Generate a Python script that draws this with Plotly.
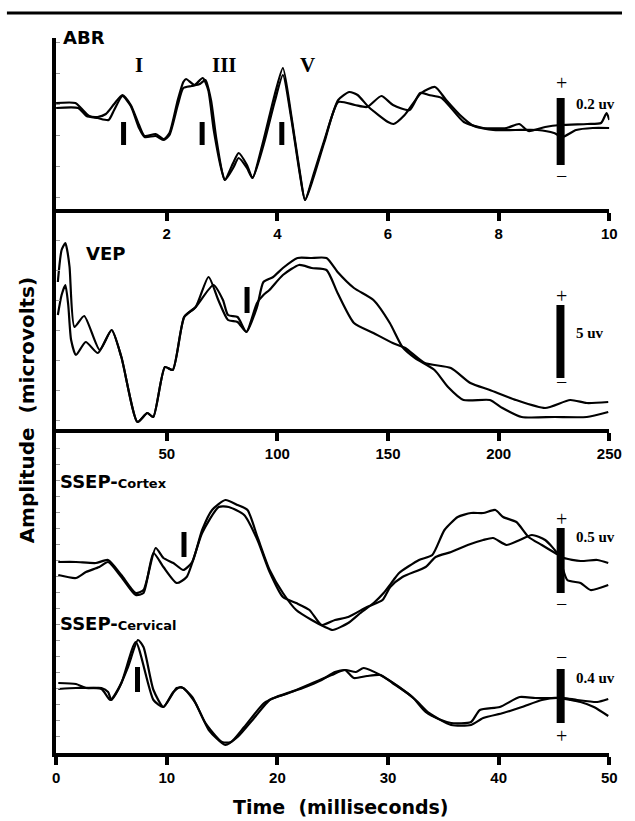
import plotly.graph_objects as go

# ---------------- data (amplitudes in arbitrary display units, upward positive) ----------------
abr_t_a = [0.0, 0.35, 0.45, 0.6, 0.75, 0.9, 1.05, 1.2, 1.35, 1.5, 1.6, 1.8, 1.95, 2.05, 2.2, 2.3, 2.35, 2.5,
           2.65, 2.75, 2.85, 3.0, 3.05, 3.2, 3.3, 3.45, 3.55, 3.75, 3.95, 4.1, 4.25, 4.4, 4.5, 4.65, 4.85,
           5.1, 5.3, 5.45, 5.65, 6.0, 6.1, 6.3, 6.6, 6.85, 7.05, 7.3, 7.55, 7.9, 8.3, 8.7, 9.0, 9.15, 9.4,
           9.7, 10.0]
abr_a = [0, 0, -5, -13, -14, -11, -1, 8, -2, -22, -33, -31, -36, -30, 3, 21, 24, 18, 25, 13, -27, -69, -77,
         -60, -50, -62, -75, -37, 8, 35, -12, -67, -97, -72, -37, 3, 11, 8, -4, -19, -21, -12, 10, 16, 3,
         -12, -23, -27, -27, -27, -30, -34, -27, -25, -25]
abr_t_b = [0.0, 0.4, 0.55, 0.75, 0.95, 1.05, 1.2, 1.35, 1.5, 1.6, 1.8, 1.95, 2.05, 2.2, 2.3, 2.45, 2.6, 2.7,
           2.8, 2.9, 3.05, 3.2, 3.3, 3.45, 3.55, 3.75, 3.95, 4.1, 4.25, 4.4, 4.5, 4.65, 4.85, 5.1, 5.4, 5.62,
           5.88, 6.09, 6.39, 6.58, 6.74, 6.97, 7.37, 7.72, 8.14, 8.37, 8.54, 8.84, 9.12, 9.6, 9.85, 9.95, 10.0]
abr_b = [-5, -5, -13, -15, -17, -7, 7, -3, -25, -34, -33, -37, -32, -2, 15, 17, 19, 23, 3, -37, -77, -65,
         -55, -65, -75, -42, 1, 28, -15, -69, -97, -75, -39, 1, -2, -4, 7, -2, -7, 10, 8, 5, -19, -25, -25,
         -21, -28, -24, -22, -21, -20, -10, -17]

vep_t_a = [0.8, 2.5, 4.2, 5.0, 6.1, 8.3, 12.7, 19.7, 25.1, 29.5, 36.8, 41.2, 43.9, 49.2, 52.7, 57.9, 63.1,
           68.9, 73.3, 77.7, 82.0, 86.0, 90.8, 93.7, 98.1, 102.5, 109.1, 114.9, 122.2, 127.2, 134.6, 143.4,
           150.8, 156.5, 162.2, 171.0, 177.1, 184.1, 196.0, 201.7, 210.4, 225.3, 239.8, 249.5]
vep_a = [48, 80, 87, 80, 63, 3, 14, -20, 0, -27, -92, -83, -87, -37, -40, 13, 23, 53, 30, 10, 8, -2, 23, 48,
         53, 62, 72, 72, 72, 58, 42, 30, 7, -17, -28, -40, -57, -70, -70, -78, -87, -87, -87, -82]
vep_t_b = [0.8, 2.5, 4.2, 5.5, 6.8, 9.0, 13.4, 18.9, 25.1, 29.5, 36.8, 41.2, 43.9, 49.2, 52.7, 57.9, 63.1,
           71.1, 75.4, 77.7, 82.0, 86.0, 90.8, 93.7, 96.4, 102.5, 109.8, 115.5, 122.2, 127.2, 134.6, 143.4,
           152.1, 157.8, 166.6, 178.4, 187.2, 196.0, 207.8, 221.0, 232.3, 239.8, 249.5]
vep_b = [15, 35, 45, 25, -10, -25, -12, -23, 0, -27, -92, -83, -87, -37, -40, 13, 23, 45, 30, 15, 13, -2, 27,
         35, 40, 55, 65, 62, 60, 37, 7, -3, -13, -18, -33, -38, -53, -60, -70, -78, -70, -73, -72]

ctx_t_a = [0.2, 1.8, 3.6, 4.7, 5.9, 7.2, 7.9, 9.0, 9.7, 10.6, 11.5, 12.3, 13.2, 14.1, 15.3, 16.4, 17.3, 18.2,
           19.3, 20.5, 21.7, 23.1, 24.3, 25.0, 26.4, 27.5, 28.7, 29.6, 30.5, 31.0, 32.8, 34.0, 35.1, 36.3,
           37.5, 38.6, 39.7, 40.4, 41.6, 42.7, 43.9, 45.1, 45.9, 47.4, 48.9, 49.9]
ctx_a = [0, 0, -1, 2, -13, -31, -28, 14, 4, -1, -8, 0, 32, 52, 62, 57, 52, 25, -8, -31, -48, -58, -65, -68,
         -61, -51, -41, -31, -18, -11, 2, 7, 32, 45, 49, 49, 52, 45, 40, 25, 17, 9, 4, 1, 2, -1]
ctx_t_b = [0.2, 1.8, 2.7, 3.9, 4.7, 5.9, 7.2, 7.9, 8.8, 9.7, 10.9, 11.8, 13.2, 14.7, 15.6, 17.0, 18.2, 19.3,
           20.5, 21.7, 22.9, 24.0, 25.2, 26.4, 28.1, 29.5, 30.2, 31.3, 33.4, 34.3, 35.7, 37.2, 38.6, 39.5,
           40.7, 41.9, 43.0, 44.2, 45.4, 46.2, 47.4, 48.3, 49.9]
ctx_b = [-13, -16, -10, -5, 0, -15, -33, -31, 9, -5, -21, -15, 29, 55, 55, 47, 22, -10, -35, -41, -48, -63,
         -58, -55, -45, -38, -25, -15, -5, 5, 10, 17, 22, 24, 17, 22, 27, 22, 7, -18, -21, -28, -23]

cerv_t_a = [0.2, 1.8, 2.7, 4.1, 4.7, 5.0, 5.6, 6.5, 7.4, 7.9, 8.8, 9.7, 10.6, 11.3, 12.3, 13.5, 15.0, 15.8,
            17.0, 18.8, 19.9, 21.7, 23.4, 24.9, 26.1, 26.9, 28.1, 29.3, 30.4, 32.2, 33.4, 34.8, 35.7, 37.5,
            38.3, 40.1, 41.9, 43.3, 44.8, 45.9, 47.1, 48.9, 49.9]
cerv_a = [5, 4, 0, 0, -4, -12, -2, 21, 48, 41, -2, -19, -4, 1, -9, -35, -54, -54, -39, -15, -9, -2, 6, 13, 18,
          10, 12, 13, 5, -9, -24, -32, -35, -34, -22, -19, -9, -10, -10, -10, -12, -14, -11]
cerv_t_b = [0.2, 1.8, 4.1, 4.9, 5.9, 7.2, 8.8, 9.7, 10.9, 11.5, 12.6, 13.8, 15.3, 16.4, 17.9, 19.3, 20.5,
            22.3, 24.0, 25.2, 26.2, 27.1, 27.8, 29.3, 31.0, 32.5, 33.7, 35.7, 37.5, 38.6, 40.4, 42.1, 43.9,
            45.3, 46.5, 47.4, 48.6, 49.9]
cerv_b = [-1, 0, -1, -12, 5, 46, -12, -19, 0, 0, -15, -42, -57, -49, -30, -12, -7, 0, 8, 16, 18, 16, 20, 13,
          1, -12, -25, -37, -37, -30, -25, -19, -12, -10, -12, -14, -19, -28]

abr_ticks = [2, 4, 6, 8, 10]
vep_ticks = [50, 100, 150, 200, 250]
ssep_ticks = [0, 10, 20, 30, 40, 50]

# ---------------- layout helpers ----------------
W, H = 635, 821
CORTEX_OFFSET = 126


def px(x):
    return x / W


def py(y):
    return 1 - y / H


LINE = dict(color="black", width=2.2, shape="spline", smoothing=0.6)

fig = go.Figure()
for t, v, xa, ya in [
    (abr_t_a, abr_a, "x", "y"), (abr_t_b, abr_b, "x", "y"),
    (vep_t_a, vep_a, "x2", "y2"), (vep_t_b, vep_b, "x2", "y2"),
    (ctx_t_a, [a + CORTEX_OFFSET for a in ctx_a], "x3", "y3"),
    (ctx_t_b, [a + CORTEX_OFFSET for a in ctx_b], "x3", "y3"),
    (cerv_t_a, cerv_a, "x3", "y3"), (cerv_t_b, cerv_b, "x3", "y3"),
]:
    fig.add_trace(go.Scatter(x=t, y=v, xaxis=xa, yaxis=ya, mode="lines", line=LINE,
                             hoverinfo="skip", showlegend=False))

XD = [px(53.5), px(622)]
tickfont = dict(family="Liberation Sans, Arial", size=15, color="black", weight="bold")
xcommon = dict(showline=True, linecolor="black", linewidth=4, ticks="outside", ticklen=8,
               tickwidth=4, tickcolor="black", showgrid=False, zeroline=False, tickfont=tickfont,
               domain=XD)
ycommon = dict(showline=True, linecolor="black", linewidth=4, ticks="inside", ticklen=4, tickwidth=1,
               tickcolor="#999999", showticklabels=False, showgrid=False, zeroline=False)

fig.update_layout(
    width=W, height=H, margin=dict(l=0, r=0, t=0, b=0),
    paper_bgcolor="white", plot_bgcolor="white", showlegend=False,
    xaxis=dict(xcommon, anchor="y", range=[0, 10], tickvals=abr_ticks),
    yaxis=dict(ycommon, anchor="x", domain=[py(208.5), py(38)], range=[-105.5, 65], tick0=-1, dtick=31),
    xaxis2=dict(xcommon, anchor="y2", range=[0, 250], tickvals=vep_ticks),
    yaxis2=dict(ycommon, anchor="x2", domain=[py(429), py(212.5)], range=[-99, 117.5], tick0=0, dtick=30),
    xaxis3=dict(xcommon, anchor="y3", range=[0, 50], tickvals=ssep_ticks),
    yaxis3=dict(ycommon, anchor="x3", domain=[py(753), py(433)], range=[-65, 255], tick0=0, dtick=16),
)

shapes = []
# top rule
shapes.append(dict(type="line", xref="paper", yref="paper", x0=px(3), x1=1, y0=py(13), y1=py(13),
                   line=dict(color="black", width=3)))


def vbar(xa, ya, x, y0, y1, w):
    shapes.append(dict(type="line", xref=xa, yref=ya, x0=x, x1=x, y0=y0, y1=y1,
                       line=dict(color="black", width=w)))


# wave markers
for xm in [1.22, 2.64, 4.08]:
    vbar("x", "y", xm, -19, -42, 5)
vbar("x2", "y2", 86.3, 43, 17, 5)
vbar("x3", "y3", 11.56, 30 + CORTEX_OFFSET, 5 + CORTEX_OFFSET, 5)
vbar("x3", "y3", 7.36, 21, -4, 5)
# scale bars
vbar("x", "y", 9.12, 5, -62, 8)
vbar("x2", "y2", 227.9, 25, -48, 8)
vbar("x3", "y3", 45.6, 34 + CORTEX_OFFSET, -31 + CORTEX_OFFSET, 8)
vbar("x3", "y3", 45.6, 19, -35, 8)
fig.update_layout(shapes=shapes)

SANS = "DejaVu Sans"
SERIF = "Liberation Serif, Times New Roman"
ann = []


def text(t, x, y, size, family, xanchor="center", angle=0):
    ann.append(dict(text=t, x=px(x), y=py(y), xref="paper", yref="paper", showarrow=False,
                    xanchor=xanchor, yanchor="middle", textangle=angle,
                    font=dict(family=family, size=size, color="black")))


text("<b>ABR</b>", 59, 37, 18, SANS, "left")
text("<b>VEP</b>", 82, 254, 18, SANS, "left")
text("<b>SSEP-<span style='font-size:13px'>Cortex</span></b>", 55, 481, 18, SANS, "left")
text("<b>SSEP-<span style='font-size:13px'>Cervical</span></b>", 55, 623, 18, SANS, "left")

text("<b>I</b>", 139, 65, 21, SERIF)
text("<b>III</b>", 227, 65, 21, SERIF)
text("<b>V</b>", 311.5, 65, 21, SERIF)

text("<b>0.2 uv</b>", 586, 104, 15, SERIF, "left")
text("<b>5 uv</b>", 586, 333, 15, SERIF, "left")
text("<b>0.5 uv</b>", 586, 537, 15, SERIF, "left")
text("<b>0.4 uv</b>", 586, 678, 15, SERIF, "left")

for sym, y in [("+", 82.5), ("\u2212", 176), ("+", 296), ("\u2212", 382), ("+", 519), ("\u2212", 604),
               ("\u2212", 657), ("+", 735.5)]:
    text(sym, 573, y, 20, SERIF)

text("<b>Amplitude\u00a0\u00a0(microvolts)</b>", 24, 410, 20, SANS, angle=-90)
text("<b>Time\u00a0\u00a0(milliseconds)</b>", 346.5, 807, 19, SANS)

fig.update_layout(annotations=ann)

fig.write_html("out.html", config={"displayModeBar": False},
               post_script="document.body.style.margin='0';document.body.style.overflow='hidden';")
